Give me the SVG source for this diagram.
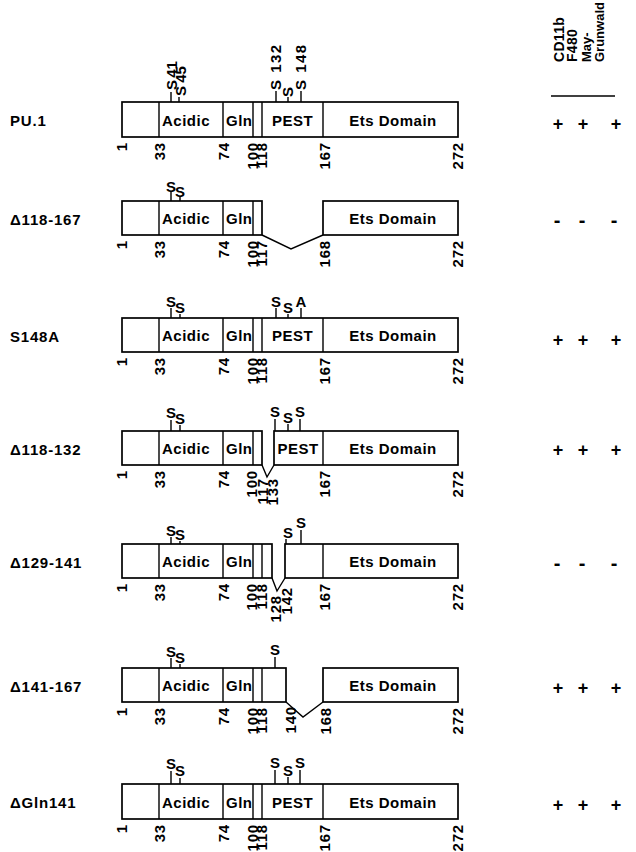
<svg xmlns="http://www.w3.org/2000/svg" width="636" height="852" viewBox="0 0 636 852">
<style>
text{font-family:"Liberation Sans",Arial,Helvetica,sans-serif;font-weight:bold;fill:#000}
.lbl{font-size:15px;letter-spacing:0.5px}
.sl{font-size:15px}
.row{font-size:15px;letter-spacing:0.8px}
.num{font-size:15px;letter-spacing:0.8px;text-anchor:end}
.s{font-size:15px;text-anchor:middle}
.hd{font-size:14px;letter-spacing:0.3px}
.pm{font-size:18px;text-anchor:middle}
.mn{font-size:20px;text-anchor:middle}
.box{fill:#fff;stroke:#000;stroke-width:1.7}
.ln{stroke:#000;stroke-width:1.4;fill:none}
</style>
<rect width="636" height="852" fill="#fff"/>

<!-- header -->
<g id="header">
<text class="hd" transform="translate(564,62) rotate(-90)">CD11b</text>
<text class="hd" transform="translate(577,62) rotate(-90)">F480</text>
<text class="hd" transform="translate(591,62) rotate(-90)" style="font-size:13px;letter-spacing:0">May-</text>
<text class="hd" transform="translate(604,62) rotate(-90)" style="font-size:13px;letter-spacing:0">Grunwald</text>
<line class="ln" x1="551" y1="96" x2="615" y2="96"/>
</g>

<!-- PU.1 -->
<g id="pu1">
<text class="row" x="10" y="126">PU.1</text>
<rect class="box" x="122" y="102" width="336" height="35"/>
<path class="ln" d="M159,102V137M223,102V137M253,102V137M262,102V137M323,102V137"/>
<text class="lbl" x="162" y="125.5">Acidic</text>
<text class="lbl" x="226" y="125.5">Gln</text>
<text class="lbl" x="292.5" y="125.5" text-anchor="middle">PEST</text>
<text class="lbl" x="393" y="125.5" text-anchor="middle">Ets Domain</text>
<path class="ln" d="M171,92V102M179,97V102M276,91V102M288,97V102M301,91V102"/>
<text class="sl" transform="translate(177,90) rotate(-90)" word-spacing="-2">S 41</text>
<text class="sl" transform="translate(186,96) rotate(-90)" word-spacing="-1">S 45</text>
<text class="sl" transform="translate(281,90) rotate(-90)" letter-spacing="1.5">S 132</text>
<text class="sl" transform="translate(293,97) rotate(-90)">S</text>
<text class="sl" transform="translate(306,90) rotate(-90)" letter-spacing="1.5">S 148</text>
<text class="num" transform="translate(127,142) rotate(-90)">1</text>
<text class="num" transform="translate(165,142) rotate(-90)">33</text>
<text class="num" transform="translate(229,142) rotate(-90)">74</text>
<text class="num" transform="translate(258,142) rotate(-90)">100</text>
<text class="num" transform="translate(267,142) rotate(-90)">118</text>
<text class="num" transform="translate(330,142) rotate(-90)">167</text>
<text class="num" transform="translate(463,142) rotate(-90)">272</text>
<text class="pm" x="558" y="129.5">+</text><text class="pm" x="583" y="129.5">+</text><text class="pm" x="616" y="129.5">+</text>
</g>

<!-- Δ118-167 -->
<g id="d118-167">
<text class="row" x="10" y="224.5">Δ118-167</text>
<rect class="box" x="122" y="201" width="140" height="34"/>
<path class="ln" d="M159,201V235M223,201V235M253,201V235"/>
<rect class="box" x="323" y="201" width="135" height="34"/>
<text class="lbl" x="162" y="224">Acidic</text>
<text class="lbl" x="226" y="224">Gln</text>
<text class="lbl" x="393" y="224" text-anchor="middle">Ets Domain</text>
<path class="ln" d="M171,192V201M180,197V201"/>
<text class="s" x="171" y="192">S</text>
<text class="s" x="180" y="197">S</text>
<text class="num" transform="translate(127,240) rotate(-90)">1</text>
<text class="num" transform="translate(165,240) rotate(-90)">33</text>
<text class="num" transform="translate(229,240) rotate(-90)">74</text>
<text class="num" transform="translate(258,240) rotate(-90)">100</text>
<text class="num" transform="translate(267,240) rotate(-90)">117</text>
<text class="num" transform="translate(330,240) rotate(-90)">168</text>
<text class="num" transform="translate(463,240) rotate(-90)">272</text>
<text class="mn" x="557" y="227">-</text><text class="mn" x="582" y="227">-</text><text class="mn" x="614" y="227">-</text>
</g>

<!-- S148A -->
<g id="s148a">
<text class="row" x="10" y="341.5">S148A</text>
<rect class="box" x="122" y="318" width="336" height="34"/>
<path class="ln" d="M159,318V352M223,318V352M253,318V352M262,318V352M323,318V352"/>
<text class="lbl" x="162" y="341">Acidic</text>
<text class="lbl" x="226" y="341">Gln</text>
<text class="lbl" x="292.5" y="341" text-anchor="middle">PEST</text>
<text class="lbl" x="393" y="341" text-anchor="middle">Ets Domain</text>
<path class="ln" d="M171,308V318M180,314V318M276,308V318M288,314V318M301,308V318"/>
<text class="s" x="171" y="307">S</text>
<text class="s" x="180" y="313">S</text>
<text class="s" x="276" y="307">S</text>
<text class="s" x="288" y="313">S</text>
<text class="s" x="301" y="307">A</text>
<text class="num" transform="translate(127,357) rotate(-90)">1</text>
<text class="num" transform="translate(165,357) rotate(-90)">33</text>
<text class="num" transform="translate(229,357) rotate(-90)">74</text>
<text class="num" transform="translate(258,357) rotate(-90)">100</text>
<text class="num" transform="translate(267,357) rotate(-90)">118</text>
<text class="num" transform="translate(330,357) rotate(-90)">167</text>
<text class="num" transform="translate(463,357) rotate(-90)">272</text>
<text class="pm" x="558" y="345.5">+</text><text class="pm" x="583" y="345.5">+</text><text class="pm" x="616" y="345.5">+</text>
</g>

<!-- Δ118-132 -->
<g id="d118-132">
<text class="row" x="10" y="454.5">Δ118-132</text>
<rect class="box" x="122" y="431" width="140" height="34"/>
<path class="ln" d="M159,431V465M223,431V465M253,431V465"/>
<rect class="box" x="274" y="431" width="184" height="34"/>
<path class="ln" d="M323,431V465"/>
<text class="lbl" x="162" y="454">Acidic</text>
<text class="lbl" x="226" y="454">Gln</text>
<text class="lbl" x="298" y="454" text-anchor="middle">PEST</text>
<text class="lbl" x="393" y="454" text-anchor="middle">Ets Domain</text>
<path class="ln" d="M171,420V431M180,425V431M275,419V431M288,424V431M300,419V431"/>
<text class="s" x="171" y="418">S</text>
<text class="s" x="180" y="424">S</text>
<text class="s" x="275" y="417">S</text>
<text class="s" x="288" y="423">S</text>
<text class="s" x="300" y="417">S</text>
<text class="num" transform="translate(127,470) rotate(-90)">1</text>
<text class="num" transform="translate(165,470) rotate(-90)">33</text>
<text class="num" transform="translate(229,470) rotate(-90)">74</text>
<text class="num" transform="translate(257,470) rotate(-90)">100</text>
<text class="num" transform="translate(268,478) rotate(-90)">117</text>
<text class="num" transform="translate(278,478) rotate(-90)">133</text>
<text class="num" transform="translate(330,470) rotate(-90)">167</text>
<text class="num" transform="translate(463,470) rotate(-90)">272</text>
<text class="pm" x="558" y="456">+</text><text class="pm" x="583" y="456">+</text><text class="pm" x="616" y="456">+</text>
</g>

<!-- Δ129-141 -->
<g id="d129-141">
<text class="row" x="10" y="567.5">Δ129-141</text>
<rect class="box" x="122" y="544" width="150" height="34"/>
<path class="ln" d="M159,544V578M223,544V578M253,544V578M262,544V578"/>
<rect class="box" x="285" y="544" width="173" height="34"/>
<path class="ln" d="M323,544V578"/>
<text class="lbl" x="162" y="567">Acidic</text>
<text class="lbl" x="226" y="567">Gln</text>
<text class="lbl" x="393" y="567" text-anchor="middle">Ets Domain</text>
<path class="ln" d="M171,537V544M180,541V544M286,539V544M301,530V544"/>
<text class="s" x="171" y="536">S</text>
<text class="s" x="180" y="540">S</text>
<text class="s" x="288" y="538">S</text>
<text class="s" x="301" y="528">S</text>
<text class="num" transform="translate(127,583) rotate(-90)">1</text>
<text class="num" transform="translate(165,583) rotate(-90)">33</text>
<text class="num" transform="translate(229,583) rotate(-90)">74</text>
<text class="num" transform="translate(257,583) rotate(-90)">100</text>
<text class="num" transform="translate(267,583) rotate(-90)">118</text>
<text class="num" transform="translate(281,595) rotate(-90)">128</text>
<text class="num" transform="translate(292,587) rotate(-90)">142</text>
<text class="num" transform="translate(330,583) rotate(-90)">167</text>
<text class="num" transform="translate(463,583) rotate(-90)">272</text>
<text class="mn" x="557" y="570">-</text><text class="mn" x="582" y="570">-</text><text class="mn" x="614" y="570">-</text>
</g>

<!-- Δ141-167 -->
<g id="d141-167">
<text class="row" x="10" y="691.5">Δ141-167</text>
<rect class="box" x="122" y="668" width="164" height="34"/>
<path class="ln" d="M159,668V702M223,668V702M253,668V702M262,668V702"/>
<rect class="box" x="323" y="668" width="135" height="34"/>
<text class="lbl" x="162" y="691">Acidic</text>
<text class="lbl" x="226" y="691">Gln</text>
<text class="lbl" x="393" y="691" text-anchor="middle">Ets Domain</text>
<path class="ln" d="M171,658V668M180,664V668M275,657V668"/>
<text class="s" x="171" y="657">S</text>
<text class="s" x="180" y="663">S</text>
<text class="s" x="275" y="655">S</text>
<text class="num" transform="translate(127,707) rotate(-90)">1</text>
<text class="num" transform="translate(165,707) rotate(-90)">33</text>
<text class="num" transform="translate(229,707) rotate(-90)">74</text>
<text class="num" transform="translate(258,707) rotate(-90)">100</text>
<text class="num" transform="translate(267,707) rotate(-90)">118</text>
<text class="num" transform="translate(296,706) rotate(-90)">140</text>
<text class="num" transform="translate(331,707) rotate(-90)">168</text>
<text class="num" transform="translate(463,707) rotate(-90)">272</text>
<text class="pm" x="558" y="694">+</text><text class="pm" x="583" y="694">+</text><text class="pm" x="616" y="694">+</text>
</g>

<!-- ΔGln141 -->
<g id="dgln141">
<text class="row" x="10" y="808">ΔGln141</text>
<rect class="box" x="122" y="784" width="336" height="35"/>
<path class="ln" d="M159,784V819M223,784V819M253,784V819M262,784V819M323,784V819"/>
<text class="lbl" x="162" y="807.5">Acidic</text>
<text class="lbl" x="226" y="807.5">Gln</text>
<text class="lbl" x="292.5" y="807.5" text-anchor="middle">PEST</text>
<text class="lbl" x="393" y="807.5" text-anchor="middle">Ets Domain</text>
<path class="ln" d="M171,771V784M180,778V784M275,770V784M288,777V784M300,770V784"/>
<text class="s" x="171" y="769">S</text>
<text class="s" x="180" y="776">S</text>
<text class="s" x="275" y="768">S</text>
<text class="s" x="288" y="776">S</text>
<text class="s" x="300" y="768">S</text>
<text class="num" transform="translate(127,824) rotate(-90)">1</text>
<text class="num" transform="translate(165,824) rotate(-90)">33</text>
<text class="num" transform="translate(229,824) rotate(-90)">74</text>
<text class="num" transform="translate(258,824) rotate(-90)">100</text>
<text class="num" transform="translate(267,824) rotate(-90)">118</text>
<text class="num" transform="translate(330,824) rotate(-90)">167</text>
<text class="num" transform="translate(463,824) rotate(-90)">272</text>
<text class="pm" x="558" y="811">+</text><text class="pm" x="583" y="811">+</text><text class="pm" x="616" y="811">+</text>
</g>

<!-- deletion connectors -->
<g id="connectors">
<polyline class="ln" points="262,235 291,249 323,235"/>
<polyline class="ln" points="262,465 267,477 274,465"/>
<polyline class="ln" points="272,578 277,591 285,578"/>
<polyline class="ln" points="286,702 303,717 323,702"/>
</g>
</svg>
